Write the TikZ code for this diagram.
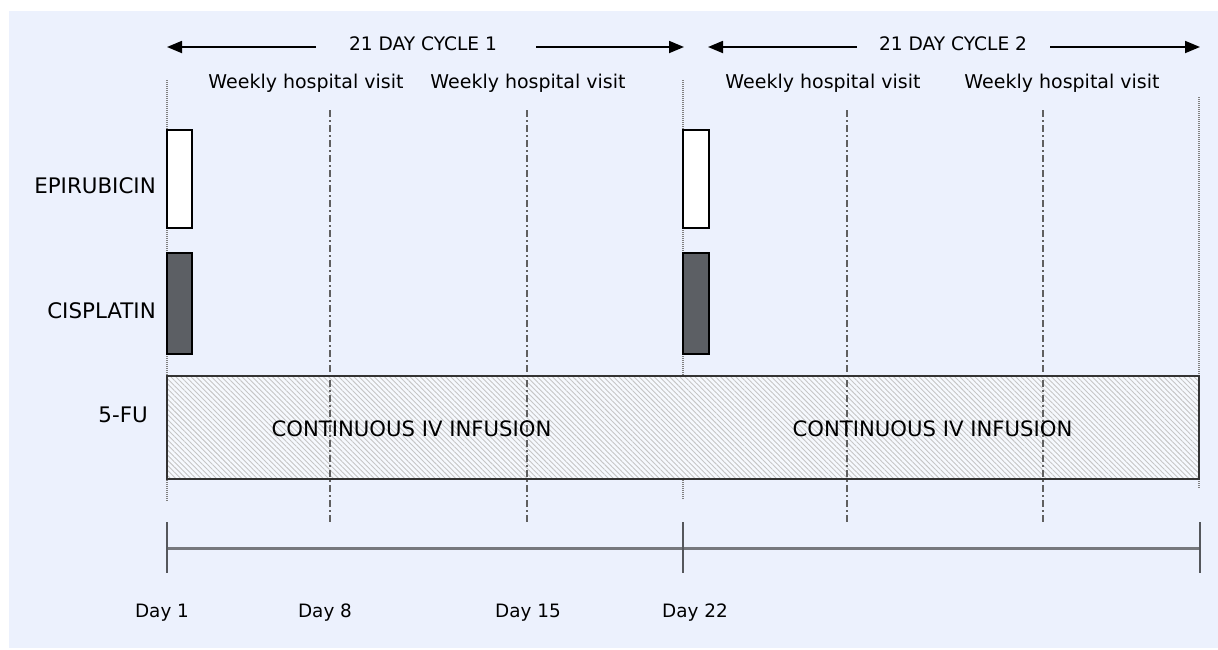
\documentclass[tikz,border=0pt]{standalone}
\usepackage{fontspec}
\setmainfont{DejaVu Sans}
\usetikzlibrary{arrows.meta,patterns.meta}
\definecolor{bgblue}{HTML}{ECF1FD}
\definecolor{dashgray}{HTML}{606060}
\definecolor{dotgray}{HTML}{808080}
\definecolor{cisgray}{HTML}{5C5F64}
\definecolor{axisgray}{HTML}{76787D}
\definecolor{tickgray}{HTML}{55575C}
\definecolor{hatchgray}{HTML}{C6C6C6}
\definecolor{boxedge}{HTML}{333333}
\begin{document}
\begin{tikzpicture}[x=1pt,y=-1pt,
  txt/.style={inner sep=0pt,anchor=base},
  small/.style={txt,font=\fontsize{19}{19}\selectfont},
  cyc/.style={txt,font=\fontsize{18.6}{19}\selectfont},
  daylbl/.style={txt,font=\fontsize{18.4}{19}\selectfont},
  drug/.style={inner sep=0pt,anchor=base east,font=\fontsize{21.4}{22}\selectfont},
  infl/.style={txt,font=\fontsize{21.2}{22}\selectfont},
  arr/.style={line width=1.8pt,-{Triangle[length=15pt,width=12pt]}},
  dotline/.style={dotgray,line width=2.5pt,dash pattern=on 1pt off 1pt},
  dashline/.style={dashgray,line width=2.5pt,dash pattern=on 7pt off 3pt on 2pt off 3pt},
  epibox/.style={draw=black,fill=white,line width=1.8pt},
  cisbox/.style={draw=black,fill=cisgray,line width=1.8pt},
  fubox/.style={pattern={Lines[angle=-45,distance=3.6pt,line width=0.9pt]},pattern color=hatchgray},
  axis/.style={axisgray,line width=3pt},
  tick/.style={tickgray,line width=2.2pt}]
\useasboundingbox (0,0) rectangle (1218,649);
\fill[white] (0,0) rectangle (1218,649);
\fill[bgblue] (9,11) rectangle (1218,648);

% dotted cycle boundaries
\draw[dotline] (167,80) -- (167,502);
\draw[dotline] (683,80) -- (683,500);
\draw[dotline] (1199,97) -- (1199,489);

% 5-FU box (fill + hatch)
\fill[white!55!bgblue] (167,376) rectangle (1199,479);
\fill[fubox] (167,376) rectangle (1199,479);

% weekly visit lines
\foreach \xx in {330,527,847,1043}
  \draw[dashline] (\xx,110) -- (\xx,523);

% 5-FU box border
\draw[boxedge,line width=2pt] (167,376) rectangle (1199,479);

% drug bars
\draw[epibox] (167,130) rectangle (192,228);
\draw[epibox] (683,130) rectangle (709,228);
\draw[cisbox] (167,253) rectangle (192,354);
\draw[cisbox] (683,253) rectangle (709,354);

% drug labels
\node[drug] (epi) at (156,193) {EPIRUBICIN};
\node[drug] (cis) at (156,318) {CISPLATIN};
\node[drug] (fu) at (148,422) {5-FU};
\node[infl] (inf1) at (411.5,436) {CONTINUOUS IV INFUSION};
\node[infl] (inf2) at (932.5,436) {CONTINUOUS IV INFUSION};

% cycle arrows
\node[cyc] (cy1) at (423,50) {21 DAY CYCLE 1};
\node[cyc] (cy2) at (953,50) {21 DAY CYCLE 2};
\coordinate (a1s) at (316,47);
\coordinate (a1e) at (167,47);
\coordinate (a2s) at (536,47);
\coordinate (a2e) at (684,47);
\coordinate (b1s) at (857,47);
\coordinate (b1e) at (708,47);
\coordinate (b2s) at (1050,47);
\coordinate (b2e) at (1200,47);
\draw[arr] (a1s) -- (a1e);
\draw[arr] (a2s) -- (a2e);
\draw[arr] (b1s) -- (b1e);
\draw[arr] (b2s) -- (b2e);

% weekly visit labels
\node[small] (w1) at (306,88) {Weekly hospital visit};
\node[small] (w2) at (528,88) {Weekly hospital visit};
\node[small] (w3) at (823,88) {Weekly hospital visit};
\node[small] (w4) at (1062,88) {Weekly hospital visit};

% timeline
\coordinate (t0) at (167,548);
\coordinate (t1) at (1200,548);
\draw[axis] (t0) -- (t1);
\draw[tick] (167,522) -- (167,573);
\draw[tick] (683,522) -- (683,573);
\draw[tick] (1200,522) -- (1200,573);

% day labels
\node[daylbl] (d1) at (162,617) {Day 1};
\node[daylbl] (d8) at (325,617) {Day 8};
\node[daylbl] (d15) at (528,617) {Day 15};
\node[daylbl] (d22) at (695,617) {Day 22};
\end{tikzpicture}
\end{document}
